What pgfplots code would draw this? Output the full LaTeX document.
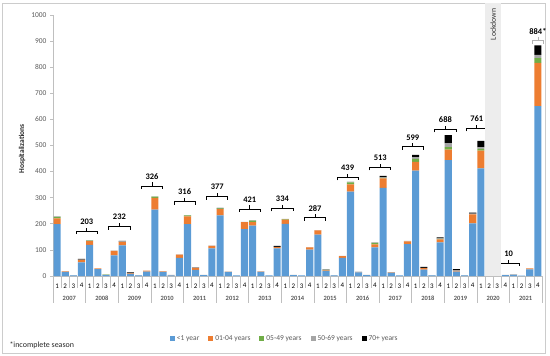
\documentclass[border=0pt]{standalone}
\usepackage{pgfplots}
\pgfplotsset{compat=1.18}
\usepackage{pgfplotstable}
\usepackage{fontspec}
\setmainfont{Carlito}
\definecolor{cblue}{HTML}{5B9BD5}
\definecolor{corange}{HTML}{ED7D31}
\definecolor{cgreen}{HTML}{70AD47}
\definecolor{cgray}{HTML}{A5A5A5}
\definecolor{ctext}{HTML}{595959}
\definecolor{caxis}{HTML}{BFBFBF}

\pgfplotstableread{
x b o g s k
0 199 22 6 1 0
1 16 2 0 0 0
2 2 0 0 1 0
3 52 10 0 1 3
4 119 15 2 1 0
5 26 3 0 0 0
6 3 0 2 1 0
7 79 17 0 1 0
8 117 14 0 2 2
9 8 2 0 1 3
10 2 0 0 1 0
11 17 4 0 0 0
12 254 45 5 1 0
13 16 2 0 0 0
14 2 1 0 1 0
15 69 13 0 1 0
16 199 29 4 1 0
17 23 8 0 1 1
18 3 0 0 1 0
19 106 9 0 1 0
20 232 24 3 0 2
21 15 1 0 1 0
22 2 0 0 0 0
23 180 26 0 1 0
24 193 13 6 2 0
25 16 1 0 1 0
26 2 0 0 0 0
27 106 5 0 1 3
28 200 16 2 1 0
29 3 0 0 1 0
30 2 0 0 0 0
31 101 9 0 1 0
32 159 16 0 1 0
33 20 2 1 3 0
34 2 0 0 1 0
35 69 7 0 1 0
36 323 28 8 3 0
37 14 1 0 2 0
38 3 0 0 1 0
39 110 11 6 2 0
40 338 36 2 2 6
41 12 1 0 2 0
42 2 0 0 0 0
43 122 11 0 2 0
44 404 33 12 6 9
45 24 6 0 1 4
46 2 0 0 1 0
47 129 11 2 2 4
48 444 40 10 15 31
49 17 3 0 2 4
50 2 0 0 1 0
51 202 34 0 3 4
52 412 68 7 6 25
53 0 0 0 0 0
54 0 0 0 0 0
55 3 0 0 1 0
56 4 0 0 2 0
57 1 0 0 0 0
58 25 4 0 0 0
59 651 166 18 12 37
}\data

\newcommand{\brk}[6][black]{%
  \draw[#1, line width=0.75bp] ([yshift=-3bp]axis cs:#2,#5) -- (axis cs:#2,#5) -- (axis cs:#4,#5) -- ([yshift=-3bp]axis cs:#4,#5);
  \draw[#1, line width=0.75bp] (axis cs:#3,#5) -- ([yshift=3.5bp]axis cs:#3,#5);
  \node[font=\bfseries\fontsize{8.5}{9}\selectfont, anchor=south, inner sep=1.5bp] at ([yshift=5bp]axis cs:#3,#5) {#6};
}

\pgfplotsset{sqleg/.style={legend image code/.code={\fill[##1] (0bp,-2.5bp) rectangle (5bp,2.5bp);}}}

\begin{document}
\begin{tikzpicture}
\useasboundingbox (0,0) rectangle (550bp,356bp);
\draw[caxis!80, line width=0.8bp] (2.5bp,2.5bp) rectangle (545bp,353bp);
\begin{axis}[
  at={(53bp,80bp)}, anchor=south west,
  scale only axis, width=489bp, height=261bp,
  xmin=-0.5, xmax=59.5, ymin=0, ymax=1000,
  ybar stacked, bar width=7.1bp,
  axis lines=left, axis line style={-, draw=caxis, line width=0.6bp},
  xtick={0,...,59},
  xticklabels={1,2,3,4,1,2,3,4,1,2,3,4,1,2,3,4,1,2,3,4,1,2,3,4,1,2,3,4,1,2,3,4,1,2,3,4,1,2,3,4,1,2,3,4,1,2,3,4,1,2,3,4,1,2,3,4,1,2,3,4},
  xtick style={draw=none},
  xticklabel style={font=\fontsize{7}{8}\selectfont, text=black, yshift=-1bp},
  ytick={0,100,...,1000},
  ytick style={draw=caxis, line width=0.6bp},
  tick align=outside, major tick length=3bp,
  yticklabel style={font=\fontsize{7.5}{8}\selectfont, text=ctext},
  /pgf/number format/1000 sep={}, /pgf/number format/assume math mode=true,
  clip=false,
  legend style={at={(0.474,-0.241)}, anchor=center, draw=none, fill=none,
    legend columns=5, font=\fontsize{7.5}{8}\selectfont, text=ctext,
    /tikz/every even column/.append style={column sep=7bp}},
]
\fill[gray!14] (axis cs:52.5,0) rectangle (axis cs:54.5,1045);

\addplot[fill=cblue, draw=none, sqleg] table[x=x,y=b]{\data};
\addplot[fill=corange, draw=none, sqleg] table[x=x,y=o]{\data};
\addplot[fill=cgreen, draw=none, sqleg] table[x=x,y=g]{\data};
\addplot[fill=cgray, draw=none, sqleg] table[x=x,y=s]{\data};
\addplot[fill=black, draw=none, sqleg] table[x=x,y=k]{\data};
\legend{<1 year, 01-04 years, 05-49 years, 50-69 years, 70+ years}

\pgfplotsinvokeforeach{-0.5,0.5,...,59.5}{\draw[caxis, line width=0.6bp] (axis cs:#1,0) -- ([yshift=-12bp]axis cs:#1,0);}
\pgfplotsinvokeforeach{-0.5,3.5,...,59.5}{\draw[caxis, line width=0.6bp] (axis cs:#1,0) -- ([yshift=-27bp]axis cs:#1,0);}

\node[font=\bfseries\fontsize{6.5}{7}\selectfont, text=ctext] at ([yshift=-22bp]axis cs:1.5,0) {2007};
\node[font=\bfseries\fontsize{6.5}{7}\selectfont, text=ctext] at ([yshift=-22bp]axis cs:5.5,0) {2008};
\node[font=\bfseries\fontsize{6.5}{7}\selectfont, text=ctext] at ([yshift=-22bp]axis cs:9.5,0) {2009};
\node[font=\bfseries\fontsize{6.5}{7}\selectfont, text=ctext] at ([yshift=-22bp]axis cs:13.5,0) {2010};
\node[font=\bfseries\fontsize{6.5}{7}\selectfont, text=ctext] at ([yshift=-22bp]axis cs:17.5,0) {2011};
\node[font=\bfseries\fontsize{6.5}{7}\selectfont, text=ctext] at ([yshift=-22bp]axis cs:21.5,0) {2012};
\node[font=\bfseries\fontsize{6.5}{7}\selectfont, text=ctext] at ([yshift=-22bp]axis cs:25.5,0) {2013};
\node[font=\bfseries\fontsize{6.5}{7}\selectfont, text=ctext] at ([yshift=-22bp]axis cs:29.5,0) {2014};
\node[font=\bfseries\fontsize{6.5}{7}\selectfont, text=ctext] at ([yshift=-22bp]axis cs:33.5,0) {2015};
\node[font=\bfseries\fontsize{6.5}{7}\selectfont, text=ctext] at ([yshift=-22bp]axis cs:37.5,0) {2016};
\node[font=\bfseries\fontsize{6.5}{7}\selectfont, text=ctext] at ([yshift=-22bp]axis cs:41.5,0) {2017};
\node[font=\bfseries\fontsize{6.5}{7}\selectfont, text=ctext] at ([yshift=-22bp]axis cs:45.5,0) {2018};
\node[font=\bfseries\fontsize{6.5}{7}\selectfont, text=ctext] at ([yshift=-22bp]axis cs:49.5,0) {2019};
\node[font=\bfseries\fontsize{6.5}{7}\selectfont, text=ctext] at ([yshift=-22bp]axis cs:53.5,0) {2020};
\node[font=\bfseries\fontsize{6.5}{7}\selectfont, text=ctext] at ([yshift=-22bp]axis cs:57.5,0) {2021};

\brk{2.35}{3.65}{4.95}{172}{203}
\brk{6.35}{7.65}{8.95}{189}{232}
\brk{10.35}{11.65}{12.95}{345}{326}
\brk{14.35}{15.65}{16.95}{285}{316}
\brk{18.35}{19.65}{20.95}{304}{377}
\brk{22.35}{23.65}{24.95}{257}{421}
\brk{26.35}{27.65}{28.95}{259}{334}
\brk{30.35}{31.65}{32.95}{223}{287}
\brk{34.35}{35.65}{36.95}{378}{439}
\brk{38.35}{39.65}{40.95}{416}{513}
\brk{42.35}{43.65}{44.95}{495}{599}
\brk{46.35}{47.65}{48.95}{562}{688}
\brk{50.2}{51.5}{52.8}{566}{761}
\brk{54.1}{55.4}{56.7}{48}{10}
\brk[gray!60]{58.3}{59}{59.7}{901}{\textcolor{black}{884*}}
\coordinate (lock) at (axis cs:53.5,1030);
\end{axis}
\node[rotate=90, anchor=east, inner sep=1bp, font=\fontsize{7.8}{8}\selectfont, text=black!80] at (lock) {Lockdown};
\node[rotate=90, font=\bfseries\fontsize{7.5}{8}\selectfont, text=black!85] at (22bp,207bp) {Hospitalizations};
\node[anchor=west, font=\fontsize{8}{9}\selectfont, text=black!85] at (6bp,11bp) {*incomplete season};
\end{tikzpicture}
\end{document}
